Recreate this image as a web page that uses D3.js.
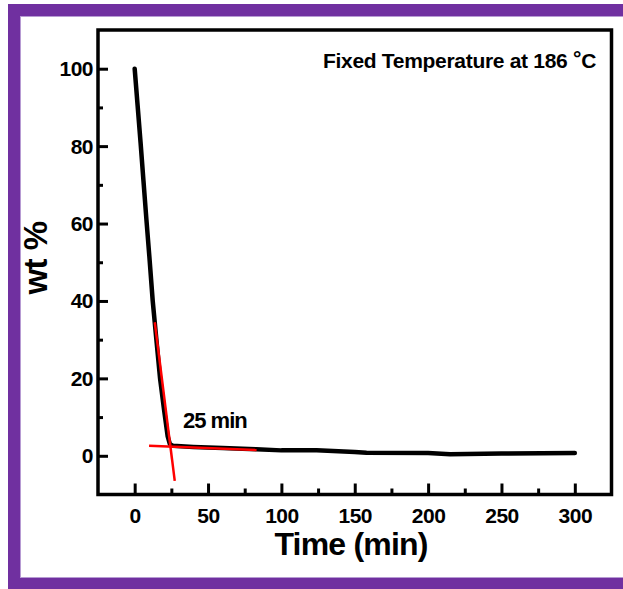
<!DOCTYPE html>
<html>
<head>
<meta charset="utf-8">
<script src="https://cdn.jsdelivr.net/npm/d3@7"></script>
<style>
  body { margin: 0; background: #fff; }
  svg { display: block; }
  text { font-family: "Liberation Sans", Arial, sans-serif; font-weight: bold; }
</style>
</head>
<body>
<div id="chart"></div>
<script>
// data
const time = [0, 2, 4, 6, 8, 10, 12.3, 14.8, 17.3, 20, 22.5, 24, 26, 40, 60, 83, 100, 124, 150, 158, 200, 215, 250, 300]
const wt   = [100, 90.5, 81, 71, 61, 51.5, 40, 30, 20, 12, 5, 3, 2.6, 2.3, 2.0, 1.7, 1.4, 1.4, 1.0, 0.8, 0.7, 0.4, 0.6, 0.7]

// red tangent lines
const tangentSteep = [[13.7, 34.5], [27.3, -6.5]]
const tangentFlat  = [[9.8, 2.6], [83.1, 1.5]]

const xTicks = [0, 50, 100, 150, 200, 250, 300]
const xMinor = [25, 75, 125, 175, 225, 275]
const yTicks = [0, 20, 40, 60, 80, 100]
const yMinor = [10, 30, 50, 70, 90]

const width = 623, height = 589
const box = {left: 98, right: 611.5, top: 30, bottom: 494.5}

const svg = d3.select("#chart")
  .append("svg")
    .attr("width", width)
    .attr("height", height)

// purple frame (right side is cut off)
svg.append("rect")
  .attr("x", 14).attr("y", 10)
  .attr("width", 700).attr("height", 573.5)
  .attr("fill", "none")
  .attr("stroke", "#7030A0")
  .attr("stroke-width", 12)
svg.append("rect")
  .attr("x", 20.5).attr("y", 16.5)
  .attr("width", 700).attr("height", 561)
  .attr("fill", "none")
  .attr("stroke", "#b79bd3")
  .attr("stroke-width", 1)

const x = d3.scaleLinear().domain([-25, 325]).range([box.left, box.right])
const y = d3.scaleLinear().domain([-10, 110]).range([box.bottom, box.top])

// axes, ticks pointing inward
function styleAxis(g) {
  g.select(".domain").remove()
  g.selectAll("line").attr("stroke", "#000").attr("stroke-width", 3)
  g.selectAll("text")
    .style("font-size", "21px")
    .style("letter-spacing", "-0.5px")
    .attr("fill", "#000")
}

svg.append("g")
  .attr("transform", `translate(0,${box.bottom})`)
  .call(d3.axisBottom(x).tickValues(xTicks).tickSize(-11).tickPadding(0).tickFormat(d3.format("d")))
  .call(styleAxis)
  .selectAll("text").attr("y", 28).attr("dy", 0)

svg.append("g")
  .attr("transform", `translate(0,${box.bottom})`)
  .call(d3.axisBottom(x).tickValues(xMinor).tickSize(-6).tickFormat(""))
  .call(styleAxis)

svg.append("g")
  .attr("transform", `translate(${box.left},0)`)
  .call(d3.axisLeft(y).tickValues(yTicks).tickSize(-10).tickPadding(0).tickFormat(d3.format("d")))
  .call(styleAxis)
  .selectAll("text").attr("x", -5).attr("dy", "0.33em")

svg.append("g")
  .attr("transform", `translate(${box.left},0)`)
  .call(d3.axisLeft(y).tickValues(yMinor).tickSize(-5).tickFormat(""))
  .call(styleAxis)

// frame of the plot
svg.append("rect")
  .attr("x", box.left).attr("y", box.top)
  .attr("width", box.right - box.left).attr("height", box.bottom - box.top)
  .attr("fill", "none")
  .attr("stroke", "#000")
  .attr("stroke-width", 3.5)

// the curve
const line = d3.line().x(d => x(d[0])).y(d => y(d[1]))
const pts = time.map((t, i) => [t, wt[i]])

svg.append("path")
  .datum(pts)
  .attr("d", line)
  .attr("fill", "none")
  .attr("stroke", "#000")
  .attr("stroke-width", 4.5)
  .attr("stroke-linecap", "round")
  .attr("stroke-linejoin", "round")

// tangents
svg.selectAll(".tangent")
  .data([tangentSteep, tangentFlat])
  .join("path")
    .attr("class", "tangent")
    .attr("d", line)
    .attr("fill", "none")
    .attr("stroke", "#ff0000")
    .attr("stroke-width", 2.5)

// texts
svg.append("text")
  .attr("x", 183).attr("y", 428)
  .style("font-size", "22px")
  .style("letter-spacing", "-1px")
  .text("25 min")

const ann = svg.append("text")
  .attr("x", 596).attr("y", 68)
  .attr("text-anchor", "end")
  .style("font-size", "21px")
  .style("letter-spacing", "-0.3px")
ann.append("tspan").text("Fixed Temperature at 186 ")
ann.append("tspan").text("°").attr("dy", -3)
ann.append("tspan").text("C").attr("dy", 3)

svg.append("text")
  .attr("x", 351).attr("y", 555)
  .attr("text-anchor", "middle")
  .style("font-size", "32px")
  .style("letter-spacing", "-0.8px")
  .text("Time (min)")

svg.append("text")
  .attr("transform", "translate(47,258) rotate(-90)")
  .attr("text-anchor", "middle")
  .style("font-size", "33px")
  .style("letter-spacing", "-0.5px")
  .text("wt %")
</script>
</body>
</html>
